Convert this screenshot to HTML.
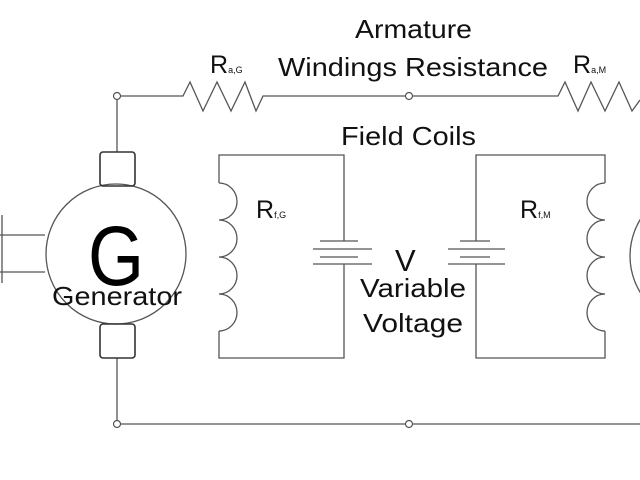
<!DOCTYPE html>
<html><head><style>
html,body{margin:0;padding:0;background:#fff;width:640px;height:480px;overflow:hidden}
text{font-family:"Liberation Sans",sans-serif;fill:#111}
</style></head><body>
<svg width="640" height="480" viewBox="0 0 640 480" xmlns="http://www.w3.org/2000/svg">
<g fill="none" stroke="#555" stroke-width="1.3">
<polyline points="117,96 183,96 190,82 203,111 217,82 231,111 245,82 256,111 263,96 409,96 558,96 565,82 578,111 591,82 605,111 619,82 632,111 640,100"/>
<line x1="117" y1="424" x2="640" y2="424"/>
<line x1="117" y1="96" x2="117" y2="152"/>
<line x1="117" y1="358" x2="117" y2="424"/>
<circle cx="116" cy="254" r="70"/>
<rect x="100" y="152" width="35" height="34" rx="3" stroke="#333" stroke-width="1.6"/>
<rect x="100" y="324" width="35" height="34" rx="3" stroke="#333" stroke-width="1.6"/>
<line x1="0" y1="235" x2="45" y2="235"/>
<line x1="0" y1="272" x2="45" y2="272"/>
<line x1="2" y1="215" x2="2" y2="283"/>
<polyline points="344,241 344,155 219,155 219,183"/>
<path d="M219,183 a18,18.5 0 0 1 0,37 a18,18.5 0 0 1 0,37 a18,18.5 0 0 1 0,37 a18,18.5 0 0 1 0,37"/>
<polyline points="219,331 219,358 344,358 344,264"/>
<line x1="320" y1="241" x2="358" y2="241"/>
<line x1="313" y1="249" x2="372" y2="249"/>
<line x1="320" y1="257" x2="358" y2="257"/>
<line x1="313" y1="264" x2="372" y2="264"/>
<polyline points="476,241 476,155 605,155 605,183"/>
<path d="M605,183 a18,18.5 0 0 0 0,37 a18,18.5 0 0 0 0,37 a18,18.5 0 0 0 0,37 a18,18.5 0 0 0 0,37"/>
<polyline points="605,331 605,358 476,358 476,264"/>
<line x1="460" y1="241" x2="490" y2="241"/>
<line x1="448" y1="249" x2="505" y2="249"/>
<line x1="460" y1="257" x2="490" y2="257"/>
<line x1="448" y1="264" x2="505" y2="264"/>
<circle cx="700" cy="256" r="70"/>
</g>
<g fill="#fff" stroke="#555" stroke-width="1.2">
<circle cx="117" cy="96" r="3.5"/>
<circle cx="409" cy="96" r="3.5"/>
<circle cx="117" cy="424" r="3.5"/>
<circle cx="409" cy="424" r="3.5"/>
</g>
<g font-size="26">
<text x="355" y="38" textLength="117" lengthAdjust="spacingAndGlyphs">Armature</text>
<text x="278" y="76" textLength="270" lengthAdjust="spacingAndGlyphs">Windings Resistance</text>
<text x="341" y="145" textLength="135" lengthAdjust="spacingAndGlyphs">Field Coils</text>
<text x="360" y="297" textLength="106" lengthAdjust="spacingAndGlyphs">Variable</text>
<text x="363" y="332" textLength="100" lengthAdjust="spacingAndGlyphs">Voltage</text>
<text x="52" y="305" textLength="130" lengthAdjust="spacingAndGlyphs">Generator</text>
</g>
<text x="395" y="271" font-size="31">V</text>
<text x="210" y="73" font-size="25">R<tspan font-size="9">a,G</tspan></text>
<text x="573" y="73" font-size="25">R<tspan font-size="9">a,M</tspan></text>
<text x="256" y="218" font-size="25">R<tspan font-size="9">f,G</tspan></text>
<text x="520" y="218" font-size="25">R<tspan font-size="9">f,M</tspan></text>
<text x="88" y="285" font-size="84" textLength="56" lengthAdjust="spacingAndGlyphs" style="fill:#000">G</text>
</svg>
</body></html>
